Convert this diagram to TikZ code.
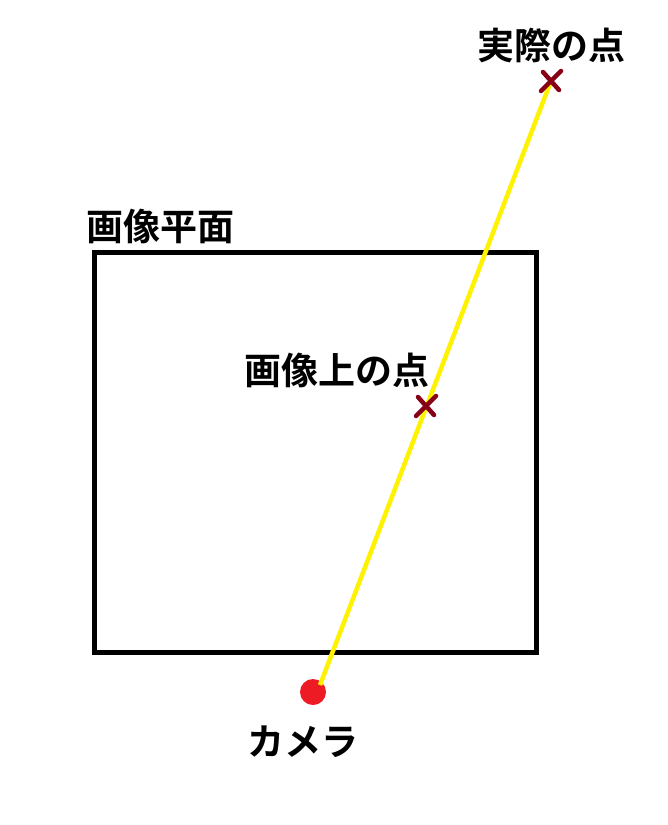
\documentclass[tikz,border=0pt]{standalone}
\usepackage{fontspec}
\usetikzlibrary{calc}
\newfontfamily\jp{Noto Sans CJK JP}[BoldFont={* Bold}]
\definecolor{rayyellow}{RGB}{255,242,0}
\definecolor{markred}{RGB}{136,0,21}
\definecolor{camred}{RGB}{237,28,36}
\begin{document}
\begin{tikzpicture}[x=1pt,y=-1pt,
  lbl/.style={font=\jp\bfseries\fontsize{37}{42}\selectfont, inner sep=0pt, anchor=center},
  xmark/.style={draw=markred, line width=4.5pt, line cap=round},
  ray/.style={draw=rayyellow, line width=4.5pt}]
\useasboundingbox (0,0) rectangle (668,825);
\node[draw, line width=5pt, minimum width=441.5pt, minimum height=399.5pt, inner sep=0pt] (plane) at (315.25,452.25) {};
\node[lbl] (planelbl) at (160,226) {画像平面};
\node[lbl] (reallbl) at (551,45) {実際の点};
\node[lbl] (imglbl) at (337,370) {画像上の点};
\node[lbl] (camlbl) at (303,742) {カメラ};
\coordinate (real) at (551,81);
\coordinate (img) at (426,406);
\coordinate (rayend) at (320,685);
\node[circle, fill=camred, minimum size=26pt, inner sep=0pt] (cam) at (313,692) {};
\draw[ray] (rayend) -- (real);
\draw[xmark] ($(real)+(-10,10)$) -- ($(real)+(10,-10)$);
\draw[xmark] ($(real)+(-8,-9)$) -- ($(real)+(8,9)$);
\draw[xmark] ($(img)+(-10,10)$) -- ($(img)+(10,-10)$);
\draw[xmark] ($(img)+(-8,-9)$) -- ($(img)+(8,9)$);
\end{tikzpicture}
\end{document}
